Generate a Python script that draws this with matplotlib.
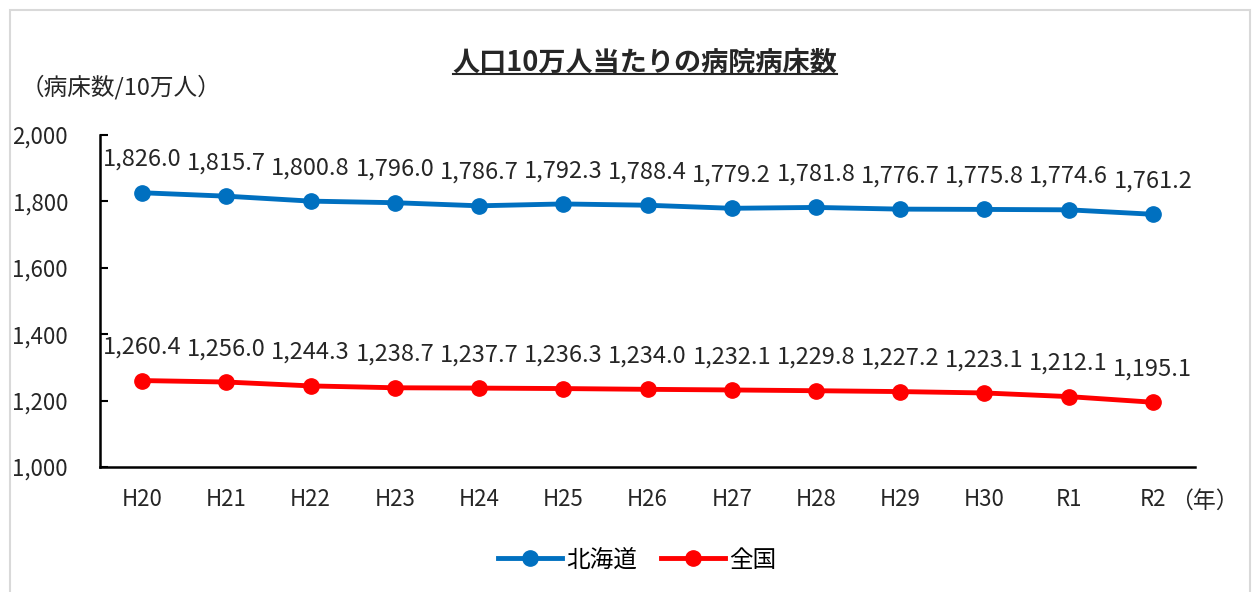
import matplotlib
matplotlib.use('Agg')
import matplotlib.pyplot as plt
from matplotlib.patches import Rectangle
from matplotlib.lines import Line2D

plt.rcParams['font.family'] = ['Noto Sans CJK JP', 'DejaVu Sans']

years = ['H20', 'H21', 'H22', 'H23', 'H24', 'H25', 'H26', 'H27', 'H28', 'H29', 'H30', 'R1', 'R2']
hokkaido = [1826.0, 1815.7, 1800.8, 1796.0, 1786.7, 1792.3, 1788.4, 1779.2, 1781.8, 1776.7, 1775.8, 1774.6, 1761.2]
zenkoku = [1260.4, 1256.0, 1244.3, 1238.7, 1237.7, 1236.3, 1234.0, 1232.1, 1229.8, 1227.2, 1223.1, 1212.1, 1195.1]
yticks = [1000, 1200, 1400, 1600, 1800, 2000]

fig = plt.figure(figsize=(12.6, 5.92), dpi=100)
ax = fig.add_axes([0.0794, 0.2111, 0.869, 0.5609])

x = list(range(len(years)))
ax.plot(x, hokkaido, color='#0070C0', lw=3.5, marker='o', ms=11, label='北海道')
ax.plot(x, zenkoku, color='#FF0000', lw=3.5, marker='o', ms=11, label='全国')

# data labels above points
for xi, v in zip(x, hokkaido):
    ax.annotate(f'{v:,.1f}', (xi, v), xytext=(0, 24), textcoords='offset points',
                ha='center', va='center', fontsize=17, color='#262626')
for xi, v in zip(x, zenkoku):
    ax.annotate(f'{v:,.1f}', (xi, v), xytext=(0, 24), textcoords='offset points',
                ha='center', va='center', fontsize=17, color='#262626')

ax.set_xlim(-0.5, len(years) - 0.5)
ax.set_ylim(1000, 2000)
ax.set_xticks(x)
ax.set_xticklabels(years)
ax.set_yticks(yticks)
ax.set_yticklabels([f'{t:,}' for t in yticks])
ax.tick_params(axis='x', length=0, pad=15, labelsize=16, labelcolor='#262626')
ax.tick_params(axis='y', direction='in', length=6, width=1.5, pad=23, labelsize=16, labelcolor='#262626')

ax.spines['top'].set_visible(False)
ax.spines['right'].set_visible(False)
ax.spines['left'].set_linewidth(1.8)
ax.spines['bottom'].set_linewidth(1.8)

# title with underline
title = fig.text(0.512, 0.895, '人口10万人当たりの病院病床数', ha='center', va='center',
                 fontsize=19.5, fontweight='bold', color='#262626')
fig.canvas.draw()
bb = title.get_window_extent().transformed(fig.transFigure.inverted())
fig.add_artist(Line2D([bb.x0, bb.x1], [bb.y0 + 0.004, bb.y0 + 0.004], color='#262626', lw=1.5))

fig.text(0.016, 0.853, '（病床数/10万人）', ha='left', va='center', fontsize=17, color='#262626')
fig.text(0.929, 0.153, '（年）', ha='left', va='center', fontsize=16.5, color='#262626')

ax.legend(loc='center', bbox_to_anchor=(0.506, 0.054), bbox_transform=fig.transFigure,
          ncol=2, frameon=False, fontsize=17, handlelength=2.7, columnspacing=1.0,
          handletextpad=0.2)

fig.add_artist(Rectangle((0.008, -0.01), 0.984, 0.993, transform=fig.transFigure,
                         fill=False, edgecolor='#d9d9d9', lw=1.5))

fig.savefig('out.png', dpi=100)
